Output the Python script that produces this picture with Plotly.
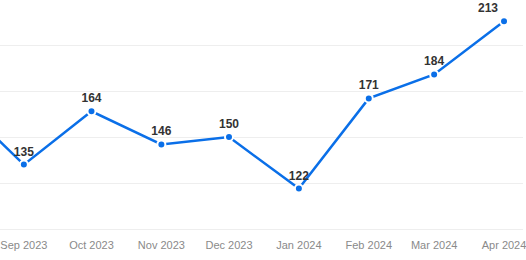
import plotly.graph_objects as go

months = ["2023-08-01", "2023-09-01", "2023-10-01", "2023-11-01", "2023-12-01",
          "2024-01-01", "2024-02-01", "2024-03-01", "2024-04-01"]
values = [172, 135, 164, 146, 150, 122, 171, 184, 213]
tick_vals = months[1:]
tick_text = ["Sep 2023", "Oct 2023", "Nov 2023", "Dec 2023", "Jan 2024",
             "Feb 2024", "Mar 2024", "Apr 2024"]

positions = ["top center"] * len(values)
positions[-1] = "top left"
labels = [str(v) for v in values]
labels[0] = ""  # first point lies outside the visible area

fig = go.Figure()
fig.add_trace(go.Scatter(
    x=months, y=values, mode="lines+markers+text",
    line=dict(color="#0a6fe8", width=2.5),
    marker=dict(size=8, color="#0a6fe8", line=dict(color="white", width=2)),
    text=labels, textposition=positions,
    textfont=dict(family="Liberation Sans, Arial", size=12, color="#333333", weight="bold"),
    cliponaxis=False, hoverinfo="skip",
))
fig.update_layout(
    width=526, height=260, margin=dict(l=0, r=0, t=0, b=31),
    paper_bgcolor="white", plot_bgcolor="white", showlegend=False,
    font=dict(family="Liberation Sans, Arial"),
)
fig.update_xaxes(
    type="date", range=["2023-08-21 10:00", "2024-04-09 10:00"],
    tickvals=tick_vals, ticktext=tick_text, showgrid=False,
    tickfont=dict(size=11, color="#8a8a8a"), ticks="", zeroline=False,
    showline=True, linecolor="#eeeeee", linewidth=1,
    ticklabeloverflow="allow", ticklabelstandoff=6,
)
fig.update_yaxes(
    range=[100, 224.5], tickvals=[100, 125, 150, 175, 200], showticklabels=False,
    showgrid=True, gridcolor="#eeeeee", gridwidth=1, zeroline=False, showline=False,
)
fig.write_html("out.html")
